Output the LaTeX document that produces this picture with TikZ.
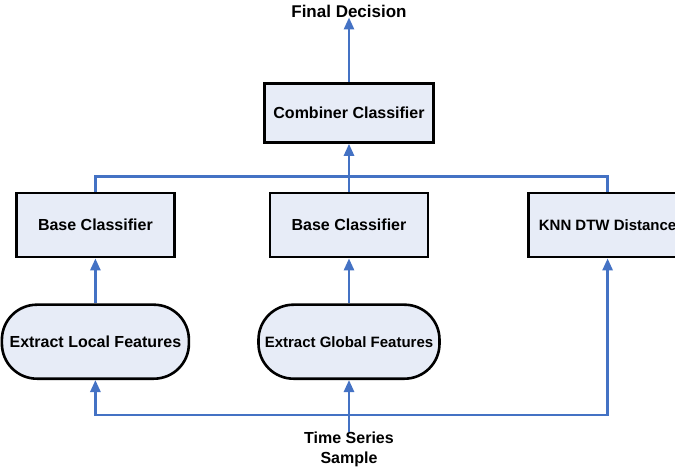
\documentclass[tikz,border=0pt]{standalone}
\usepackage{fontspec}
\setmainfont{Liberation Sans}
\usetikzlibrary{arrows.meta,positioning,calc}
\definecolor{flowblue}{RGB}{68,114,196}
\definecolor{boxfill}{RGB}{231,236,247}
\tikzset{
  classbox/.style={draw=black,line width=2.6pt,fill=boxfill,
        minimum width=158pt,minimum height=64pt,
        font=\fontsize{16}{18}\selectfont\bfseries,align=center,inner sep=0pt},
  featbox/.style={draw=black,line width=2.6pt,fill=boxfill,rounded corners=35pt,
        minimum height=74pt,font=\fontsize{16}{18}\selectfont\bfseries,
        align=center,inner sep=0pt},
  flow/.style={-{Triangle[length=12pt,width=10pt]},line width=2.6pt,color=flowblue},
  bus/.style={line width=2.6pt,color=flowblue},
}

\begin{document}
\begin{tikzpicture}[x=1pt,y=1pt]
  \clip (0,0) rectangle (675,469);
  \node[classbox,minimum width=169pt,minimum height=59pt] (combiner) at (349,356)
    {Combiner Classifier};
  \node[font=\fontsize{17}{19}\selectfont\bfseries,inner sep=0pt] (final) at (349,458)
    {Final Decision};
  \node[classbox,below=48pt of combiner] (base2) {Base Classifier};
  \node[classbox,left=93pt of base2] (base1) {Base Classifier};
  \node[classbox,right=98pt of base2] (knn)
    {\fontsize{15}{17}\selectfont KNN DTW Distance};
  \node[featbox,minimum width=187pt,below=45pt of base1] (local)
    {Extract Local Features};
  \node[featbox,minimum width=181pt,below=45pt of base2] (global)
    {\fontsize{15}{17}\selectfont Extract Global Features};
  \node[font=\fontsize{16}{20}\selectfont\bfseries,align=center,inner sep=0pt,
        below=52pt of global] (sample) {Time Series\\Sample};
  \draw[flow] (combiner) -- (final);
  \draw[flow] (base2) -- (combiner);
  \draw[bus] (base1.north) |- ($(base2.north)+(0,15)$) -| (knn.north);
  \draw[flow] (local) -- (base1);
  \draw[flow] (global) -- (base2);
  % Input bus
  \coordinate (split) at (global.south |- 0,54);
  \draw[flow] (sample) -- (global);
  \draw[flow] (split) -| (local.south);
  \draw[flow] (split) -| (knn.south);
\end{tikzpicture}
\end{document}
